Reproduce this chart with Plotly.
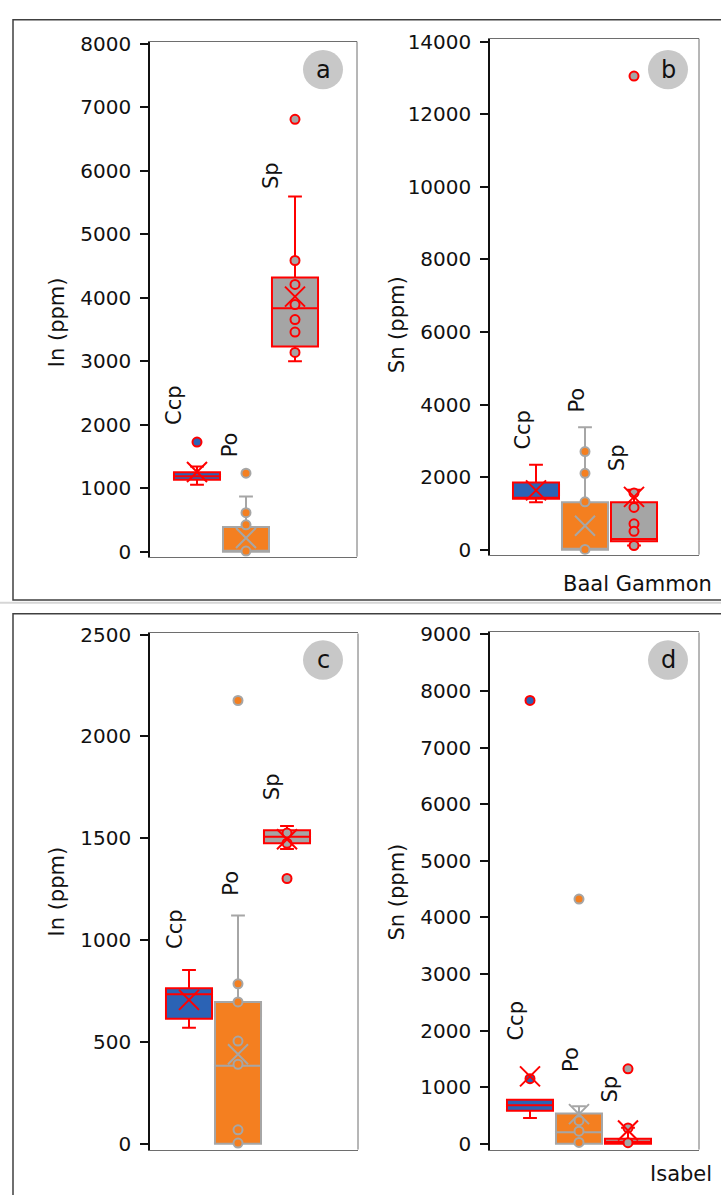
import plotly.graph_objects as go

W, H = 721, 1195

categories = ["Ccp", "Po", "Sp"]
fill_colors = ["#2B63B5", "#F47F20", "#A5A5A5"]
line_colors = ["#FF0000", "#A6A6A6", "#FF0000"]

# Panel a: In (ppm), Baal Gammon
a_q1 = [1132, 0, 3230]
a_median = [1190, 10, 3834]
a_q3 = [1251, 390, 4315]
a_low = [1054, 0, 2997]
a_high = [1340, 870, 5592]
a_mean = [1255, 217, 4015]
a_points = [[1726], [1236, 615, 423, 10], [6806, 4584, 4207, 3890, 3654, 3457, 3137]]

# Panel b: Sn (ppm), Baal Gammon
b_q1 = [1402, 0, 235]
b_median = [1430, 0, 298]
b_q3 = [1853, 1311, 1311]
b_low = [1311, 0, 117]
b_high = [2341, 3372, 1655]
b_mean = [1636, 660, 1457]
b_points = [[], [2704, 2107, 1320, 8], [13049, 1565, 1167, 714, 507, 117]]

# Panel c: In (ppm), Isabel
c_q1 = [613, 0, 1475]
c_median = [734, 383, 1507]
c_q3 = [763, 696, 1539]
c_low = [569, 0, 1447]
c_high = [853, 1120, 1560]
c_mean = [706, 439, 1495]
c_points = [[], [2176, 785, 696, 504, 390, 68, 3], [1525, 1475, 1302]]

# Panel d: Sn (ppm), Isabel
d_q1 = [580, 0, 0]
d_median = [679, 203, 35]
d_q3 = [778, 534, 87]
d_low = [453, 0, 0]
d_high = [778, 662, 280]
d_mean = [1189, 522, 232]
d_points = [[7834, 1149], [4323, 406, 220, 23], [1323, 279, 17]]

panel_letters = ["a", "b", "c", "d"]
y_titles = ["In (ppm)", "Sn (ppm)", "In (ppm)", "Sn (ppm)"]
locations = ["Baal Gammon", "Isabel"]

FONT = "DejaVu Sans"


def px(p):
    return p / W


def py(p):
    return 1 - p / H


fig = go.Figure()

panels = [
    dict(stats=(a_q1, a_median, a_q3, a_low, a_high, a_mean, a_points),
         left=150, right=357, top=31, bottom=554, yr=[-77.5, 8031], dtick=1000, cx=197,
         labels=[(174, 400), (230, 441), (271.5, 167)], title=(57, 316), circ=(323, 59.5)),
    dict(stats=(b_q1, b_median, b_q3, b_low, b_high, b_mean, b_points),
         left=490, right=699, top=28, bottom=552, yr=[-135.7, 14081], dtick=2000, cx=536,
         labels=[(523, 425), (577.5, 395), (617, 454)], title=(397, 319), circ=(668, 59.5)),
    dict(stats=(c_q1, c_median, c_q3, c_low, c_high, c_mean, c_points),
         left=150, right=358, top=632, bottom=1156, yr=[-29, 2505], dtick=500, cx=189,
         labels=[(175, 932), (231, 886), (272, 788)], title=(57, 894), circ=(323, 659)),
    dict(stats=(d_q1, d_median, d_q3, d_low, d_high, d_mean, d_points),
         left=490, right=699, top=631, bottom=1156, yr=[-104.4, 9035], dtick=1000, cx=530,
         labels=[(516, 1025), (571, 1065), (610, 1095)], title=(397, 895), circ=(668, 659)),
]

SPACING = 49.0
annotations = []
shapes = []

for k, p in enumerate(panels):
    sfx = "" if k == 0 else str(k + 1)
    xa, ya = "x" + sfx, "y" + sfx
    q1, med, q3, lo, hi, mean, pts = p["stats"]
    for i, cat in enumerate(categories):
        fig.add_trace(go.Box(
            x=[cat], q1=[q1[i]], median=[med[i]], q3=[q3[i]],
            lowerfence=[lo[i]], upperfence=[hi[i]],
            fillcolor=fill_colors[i], line=dict(color=line_colors[i], width=2),
            width=0.94, whiskerwidth=0.3, boxpoints=False,
            xaxis=xa, yaxis=ya, showlegend=False, hoverinfo="skip"))
        if pts[i]:
            fig.add_trace(go.Scatter(
                x=[cat] * len(pts[i]), y=pts[i], mode="markers",
                marker=dict(size=9, color=fill_colors[i],
                            line=dict(color=line_colors[i], width=2)),
                xaxis=xa, yaxis=ya, showlegend=False, hoverinfo="skip"))
        fig.add_trace(go.Scatter(
            x=[cat], y=[mean[i]], mode="markers",
            marker=dict(symbol="x-thin", size=20,
                        line=dict(color=line_colors[i], width=2)),
            xaxis=xa, yaxis=ya, showlegend=False, hoverinfo="skip"))

    r0 = -(p["cx"] - p["left"]) / SPACING
    r1 = (p["right"] - p["cx"]) / SPACING
    fig.update_layout(**{
        "xaxis" + sfx: dict(domain=[px(p["left"]), px(p["right"])], anchor=ya,
                            type="category", categoryorder="array", categoryarray=categories,
                            range=[r0, r1], showticklabels=False, ticks="",
                            showgrid=False, zeroline=False, showline=True, mirror=True,
                            linecolor="#6E6E6E", linewidth=1),
        "yaxis" + sfx: dict(domain=[py(p["bottom"]), py(p["top"])], anchor=xa,
                            range=p["yr"], dtick=p["dtick"], tick0=0, tickformat="d",
                            ticks="outside", ticklen=8, tickwidth=1.5, tickcolor="#111111",
                            ticklabelstandoff=5,
                            tickfont=dict(family=FONT, size=20, color="#111111"),
                            showgrid=False, zeroline=False, showline=True,
                            linecolor="#111111", linewidth=1.5),
    })
    # right border of plot area
    shapes.append(dict(type="line", xref=xa + " domain", yref=ya + " domain",
                       x0=1, x1=1, y0=0, y1=1, line=dict(color="#6E6E6E", width=1)))
    # category labels
    for i, cat in enumerate(categories):
        lx, ly = p["labels"][i]
        annotations.append(dict(x=px(lx), y=py(ly), xref="paper", yref="paper",
                                text=cat, textangle=-90, showarrow=False,
                                xanchor="center", yanchor="middle",
                                font=dict(family=FONT, size=21, color="#111111")))
    # y title
    tx, ty = p["title"]
    annotations.append(dict(x=px(tx), y=py(ty), xref="paper", yref="paper",
                            text=y_titles[k], textangle=-90, showarrow=False,
                            xanchor="center", yanchor="middle",
                            font=dict(family=FONT, size=21, color="#111111")))
    # panel letter in gray circle
    ccx, ccy = p["circ"]
    shapes.append(dict(type="circle", xref="paper", yref="paper",
                       x0=px(ccx - 20), x1=px(ccx + 20), y0=py(ccy + 20), y1=py(ccy - 20),
                       fillcolor="#C8C8C8", line=dict(width=0)))
    annotations.append(dict(x=px(ccx), y=py(ccy), xref="paper", yref="paper",
                            text=panel_letters[k], showarrow=False,
                            xanchor="center", yanchor="middle",
                            font=dict(family=FONT, size=24, color="#111111")))

# location labels
annotations.append(dict(x=px(714), y=py(582), xref="paper", yref="paper",
                        text=locations[0], showarrow=False, xanchor="right", yanchor="middle",
                        font=dict(family=FONT, size=21, color="#111111")))
annotations.append(dict(x=px(714), y=py(1181), xref="paper", yref="paper",
                        text=locations[1], showarrow=False, xanchor="right", yanchor="middle",
                        font=dict(family=FONT, size=21, color="#111111")))

# outer frames
shapes.append(dict(type="rect", xref="paper", yref="paper",
                   x0=px(13), x1=px(740), y0=py(598), y1=py(9),
                   line=dict(color="#404040", width=1.5), layer="below"))
shapes.append(dict(type="line", xref="paper", yref="paper",
                   x0=0, x1=1, y0=py(600.8), y1=py(600.8),
                   line=dict(color="#D6D6D6", width=2), layer="below"))
shapes.append(dict(type="rect", xref="paper", yref="paper",
                   x0=px(13), x1=px(740), y0=py(1210), y1=py(612),
                   line=dict(color="#404040", width=1.5), layer="below"))

fig.update_layout(width=W, height=H, margin=dict(l=0, r=0, t=0, b=0),
                  paper_bgcolor="white", plot_bgcolor="white",
                  showlegend=False, boxmode="overlay",
                  annotations=annotations, shapes=shapes)

fig.write_html("out.html")
